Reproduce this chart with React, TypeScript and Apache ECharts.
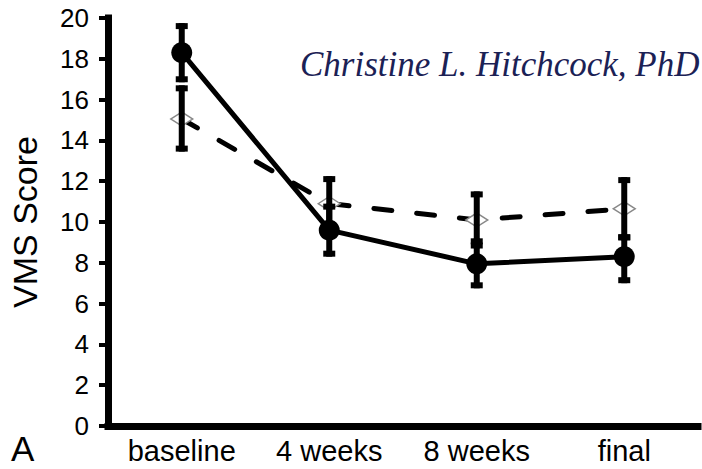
import React, { useEffect, useRef } from "react";
import * as echarts from "echarts";

const categories = ["baseline", "4 weeks", "8 weeks", "final"];
const yTicks = [0, 2, 4, 6, 8, 10, 12, 14, 16, 18, 20];

const solidMean = [18.3, 9.6, 7.95, 8.3];
const solidLow = [16.85, 8.3, 6.75, 7.0];
const solidHigh = [19.75, 10.9, 9.2, 9.4];

const dashedMean = [15.05, 10.9, 10.1, 10.65];
const dashedLow = [13.45, 9.55, 8.7, 9.1];
const dashedHigh = [16.7, 12.25, 11.5, 12.2];

const yAxisName = "VMS Score";
const panelLabel = "A";
const watermark = "Christine L. Hitchcock, PhD";

function errorRender(params: any, api: any) {
  const x = api.value(0);
  const lo = api.coord([x, api.value(1)]);
  const hi = api.coord([x, api.value(2)]);
  const cx = lo[0];
  const stemW = 6;
  const capW = 12;
  const capH = 6;
  const style = { fill: "#000" };
  return {
    type: "group",
    children: [
      { type: "rect", shape: { x: cx - stemW / 2, y: hi[1], width: stemW, height: lo[1] - hi[1] }, style },
      { type: "rect", shape: { x: cx - capW / 2, y: hi[1], width: capW, height: capH }, style },
      { type: "rect", shape: { x: cx - capW / 2, y: lo[1] - capH, width: capW, height: capH }, style },
    ],
  };
}

export default function App() {
  const ref = useRef<HTMLDivElement>(null);
  useEffect(() => {
    if (!ref.current) return;
    const chart = echarts.init(ref.current, undefined, { renderer: "svg" });
    const solidErr = categories.map((_, i) => [i, solidLow[i], solidHigh[i]]);
    const dashedErr = categories.map((_, i) => [i, dashedLow[i], dashedHigh[i]]);
    chart.setOption({
      animation: false,
      backgroundColor: "#fff",
      grid: { left: 103, right: 4, top: 18, bottom: 43 },
      graphic: [
        {
          type: "text",
          left: 300,
          top: 47,
          style: {
            text: watermark,
            font: "italic 35px 'Liberation Serif'",
            fill: "#1b2155",
          },
        },
        {
          type: "text",
          left: 11,
          top: 431,
          style: {
            text: panelLabel,
            font: "35px 'Liberation Sans'",
            fill: "#000",
          },
        },
      ],
      xAxis: {
        type: "category",
        data: categories,
        boundaryGap: true,
        axisLine: { lineStyle: { color: "#000", width: 7, cap: "square" } },
        axisTick: { show: false },
        axisLabel: {
          color: "#000",
          fontFamily: "Liberation Sans",
          fontSize: 29,
          margin: 10,
        },
        splitLine: { show: false },
      },
      yAxis: {
        type: "value",
        min: yTicks[0],
        max: yTicks[yTicks.length - 1],
        interval: yTicks[1] - yTicks[0],
        name: yAxisName,
        nameLocation: "middle",
        nameGap: 66,
        nameTextStyle: { color: "#000", fontFamily: "Liberation Sans", fontSize: 34 },
        axisLine: { show: true, lineStyle: { color: "#000", width: 7, cap: "square" } },
        axisTick: { show: true, length: 9, lineStyle: { color: "#000", width: 4 } },
        axisLabel: {
          color: "#000",
          fontFamily: "Liberation Sans",
          fontSize: 26,
          margin: 19,
        },
        splitLine: { show: false },
      },
      series: [
        {
          type: "line",
          data: dashedMean,
          z: 2,
          symbol: "diamond",
          symbolSize: [22, 14],
          itemStyle: { color: "#fff", borderColor: "#888", borderWidth: 1.5 },
          lineStyle: { color: "#000", width: 5, type: [18, 25], cap: "round" },
        },
        {
          type: "line",
          data: solidMean,
          z: 2,
          symbol: "circle",
          symbolSize: 21,
          itemStyle: { color: "#000" },
          lineStyle: { color: "#000", width: 5 },
        },
        {
          type: "custom",
          renderItem: errorRender,
          data: dashedErr,
          z: 3,
          encode: { x: 0, y: [1, 2] },
        },
        {
          type: "custom",
          renderItem: errorRender,
          data: solidErr,
          z: 3,
          encode: { x: 0, y: [1, 2] },
        },
      ],
    });
    return () => chart.dispose();
  }, []);
  return (
    <div
      ref={ref}
      style={{ position: "fixed", left: 0, top: 0, width: 702, height: 469 }}
    />
  );
}
